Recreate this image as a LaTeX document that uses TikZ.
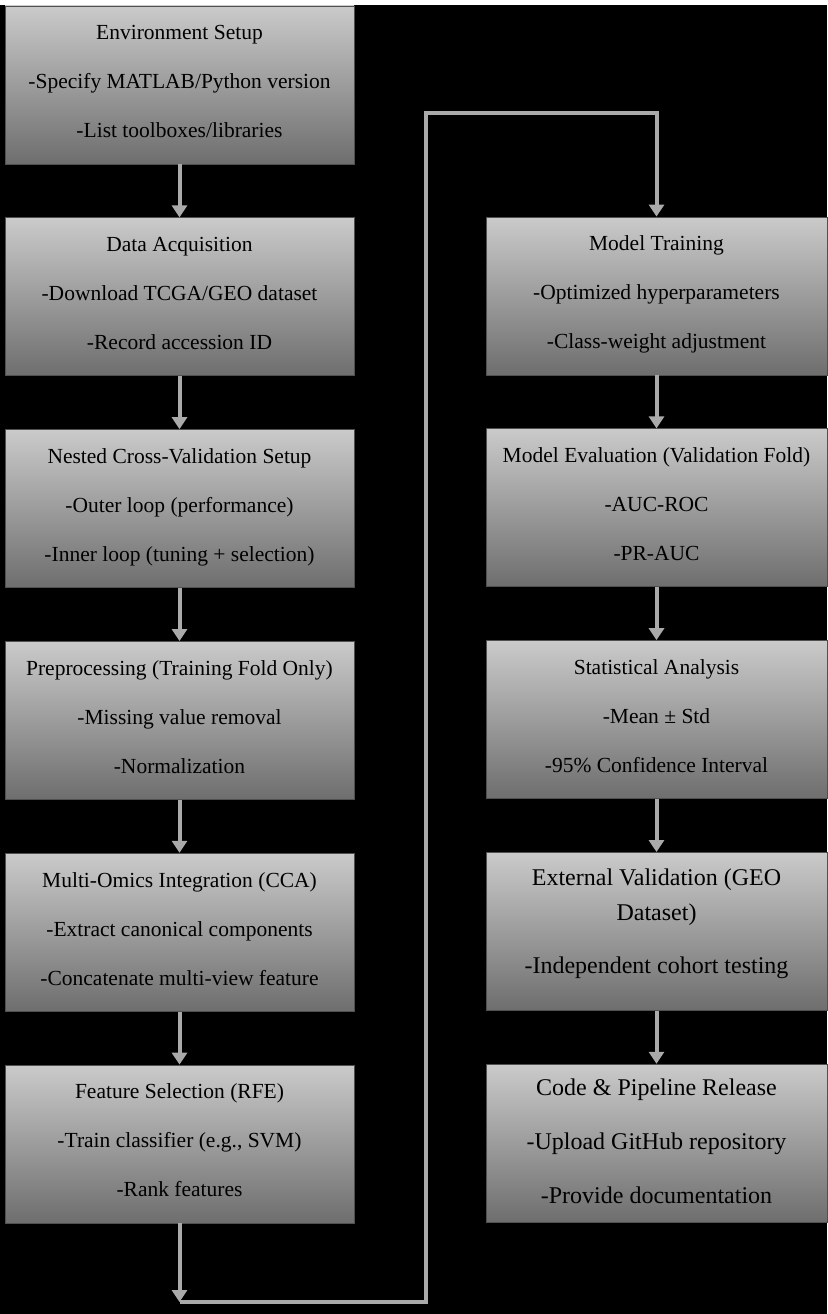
\documentclass[tikz,border=0pt]{standalone}
\usepackage{fontspec}
\setmainfont{Liberation Serif}
\usepackage{tikz}
\usetikzlibrary{positioning}
\usetikzlibrary{arrows.meta}

\definecolor{boxtop}{RGB}{202,202,202}
\definecolor{boxbot}{RGB}{110,110,110}
\definecolor{boxline}{RGB}{80,80,80}
\definecolor{arrgray}{RGB}{170,170,170}

\tikzset{
    stepbox/.style={rectangle, draw=boxline, line width=0.8pt, top color=boxtop, bottom color=boxbot,
        minimum height=158pt, inner sep=0pt, align=center, text=black, text depth=7pt,
        font=\fontsize{21.5}{49}\selectfont},
    leftbox/.style={stepbox, minimum width=349pt},
    rightbox/.style={stepbox, minimum width=341pt},
    bigtext/.style={font=\fontsize{24}{35}\selectfont, text depth=21pt},
    arr/.style={line width=4pt, draw=arrgray, -{Triangle[length=12pt,width=15pt]}}
}

\begin{document}
\begin{tikzpicture}[x=1pt, y=-1pt, node distance=53pt]
                % background
                \fill[black] (0, 0) rectangle (827, 1314);
                \fill[white] (0, 0) rectangle (827, 5);
                \useasboundingbox (0, 0) rectangle (827, 1314);

                % Left column
                \node[leftbox] (env) at (179.5, 85) {Environment Setup\\-Specify MATLAB/Python version\\-List toolboxes/libraries};
                \node[leftbox, below=of env] (acq) {Data Acquisition\\-Download TCGA/GEO dataset\\-Record accession ID};
                \node[leftbox, below=of acq] (ncv) {Nested Cross-Validation Setup\\-Outer loop (performance)\\-Inner loop (tuning + selection)};
                \node[leftbox, below=of ncv] (pre) {Preprocessing (Training Fold Only)\\-Missing value removal\\-Normalization};
                \node[leftbox, below=of pre] (cca) {Multi-Omics Integration (CCA)\\-Extract canonical components\\-Concatenate multi-view feature};
                \node[leftbox, below=of cca] (rfe) {Feature Selection (RFE)\\-Train classifier (e.g., SVM)\\-Rank features};

                % Right column
                \node[rightbox] (train) at (656.5, 296) {Model Training\\-Optimized hyperparameters\\-Class-weight adjustment};
                \node[rightbox, below=of train] (eval) {Model Evaluation (Validation Fold)\\-AUC-ROC\\-PR-AUC};
                \node[rightbox, below=of eval] (stat) {Statistical Analysis\\-Mean ± Std\\-95\% Confidence Interval};
                \node[rightbox, bigtext, below=of stat] (ext) {External Validation (GEO\\Dataset)\\[18pt]-Independent cohort testing};
                \node[rightbox, below=of ext, font=\fontsize{24}{54}\selectfont, text depth=5pt] (rel) {Code \& Pipeline Release\\-Upload GitHub repository\\-Provide documentation};

                % Arrows
                \draw[arr] (env) -- (acq);
                \draw[arr] (acq) -- (ncv);
                \draw[arr] (ncv) -- (pre);
                \draw[arr] (pre) -- (cca);
                \draw[arr] (cca) -- (rfe);
                \draw[arr] (train) -- (eval);
                \draw[arr] (eval) -- (stat);
                \draw[arr] (stat) -- (ext);
                \draw[arr] (ext) -- (rel);

                % Loop back to the top of the right column
                \coordinate (low) at (rfe.south |- 0, 1302);
                \coordinate (lowr) at (426, 1302);
                \coordinate (highl) at (426, 113);
                \coordinate (high) at (train.north |- 0, 113);
                \draw[arr] (rfe) -- (low);
                \draw[arr, line join=miter] (low) -- (lowr) -- (highl) -- (high) -- (train);
\end{tikzpicture}
\end{document}
